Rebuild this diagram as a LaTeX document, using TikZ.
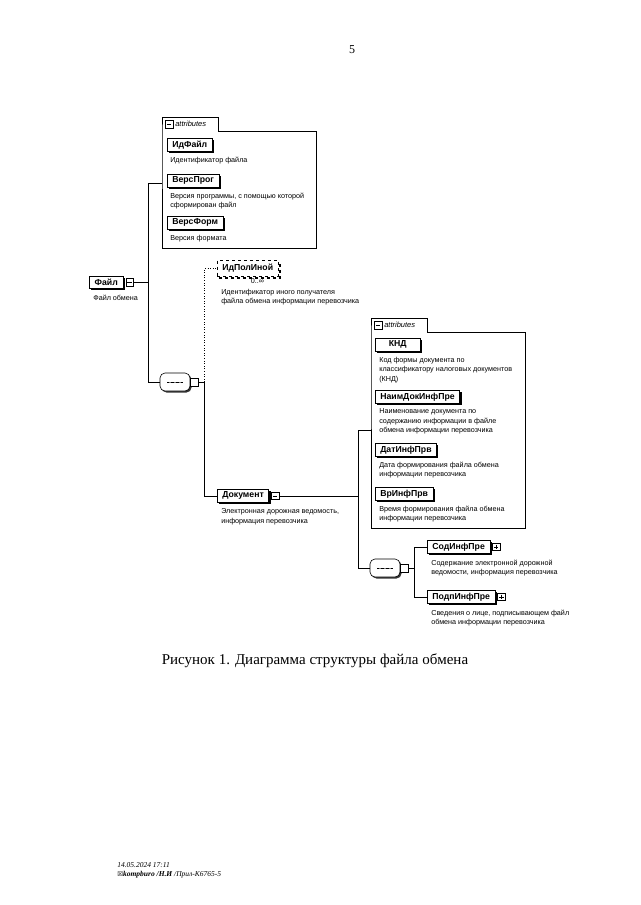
\documentclass[tikz,border=0pt]{standalone}
\usepackage{fontspec}
\setmainfont{Liberation Serif}
\setsansfont{Liberation Sans}
\newfontfamily\symfont{DejaVu Sans}
\usetikzlibrary{positioning,shadows,calc}

\begin{document}
\begin{tikzpicture}[x=1pt,y=-1pt,line width=0.6pt,
	elembase/.style={draw, fill=white, font=\sffamily\bfseries\fontsize{8.7}{9}\selectfont,
		inner xsep=5pt, inner ysep=0pt, minimum height=13pt, anchor=north west},
	elem/.style={elembase, minimum width=45pt,
		drop shadow={shadow xshift=1.8pt, shadow yshift=-1.8pt, fill=black, opacity=1}},
	optelem/.style={elembase, dashed, minimum height=16pt,
		preaction={draw, dashed, line width=1.8pt, transform canvas={shift={(1.5pt,-1.5pt)}}}},
	desc/.style={font=\sffamily\fontsize{7.2}{9.5}\selectfont, align=left, inner sep=0pt, anchor=north west},
	pmbox/.style={draw, fill=white, minimum size=7.5pt, inner sep=0pt, anchor=west, line width=0.5pt},
	minusbox/.style={pmbox, path picture={
		\draw ([xshift=1.5pt]path picture bounding box.west) -- ([xshift=-1.5pt]path picture bounding box.east);}},
	plusbox/.style={pmbox, path picture={
		\draw ([xshift=1.5pt]path picture bounding box.west) -- ([xshift=-1.5pt]path picture bounding box.east);
		\draw ([yshift=-1.5pt]path picture bounding box.north) -- ([yshift=1.5pt]path picture bounding box.south);}},
	seqbox/.style={draw, fill=white, rounded corners=5pt, minimum width=30pt, minimum height=18pt, inner sep=0pt,
		drop shadow={shadow xshift=1.5pt, shadow yshift=-1.5pt, fill=black!80, opacity=1},
		path picture={
		\draw ([xshift=-8pt]path picture bounding box.center) -- ([xshift=8pt]path picture bounding box.center);
		\foreach \d in {-5,0,5} \fill ([xshift=\d pt]path picture bounding box.center) circle (0.9pt);}},
	attrarea/.style={inner sep=0pt, anchor=north west},
	attrtab/.style={inner xsep=4pt, inner ysep=0pt, anchor=south west, minimum height=13pt, text width=48pt,
		font=\sffamily\itshape\fontsize{7.5}{8}\selectfont}]

\path[use as bounding box, fill=white] (0,0) rectangle (640,905);

% page number
\node[font=\fontsize{12}{14}\selectfont] (pagenum) at (352,50) {5};

% root element
\node[elem, minimum width=34pt, minimum height=12pt] (file) at (89,276) {Файл};
\node[minusbox, right=2pt of file] (fileX) {};
\node[desc, below right=6pt and 4pt of file.south west] (fileD) {Файл обмена};

% attributes of the root
\node[attrarea, minimum width=154pt, minimum height=117pt] (attrA) at (162,131) {};
\node[attrtab] (tabA) at (attrA.north west) {\hspace*{9pt}attributes};
\draw (tabA.south west) |- (tabA.north east) |- (attrA.north east) |- (attrA.south west) -- cycle;
\node[minusbox, right=3pt of tabA.west] (tabAX) {};

\node[elem] (idfile) at (167,138) {ИдФайл};
\node[desc, below right=5pt and 3pt of idfile.south west] (idfileD) {Идентификатор файла};
\node[elem] (versprog) at (167,174) {ВерсПрог};
\node[desc, below right=5pt and 3pt of versprog.south west] (versprogD)
	{Версия программы, с помощью которой\\сформирован файл};
\node[elem] (versform) at (167,216) {ВерсФорм};
\node[desc, below right=5pt and 3pt of versform.south west] (versformD) {Версия формата};

% first sequence
\node[seqbox] (seqA) at (175,382) {};
\node[pmbox, right=0pt of seqA] (seqAX) {};

\node[optelem] (idpol) at (217,260) {ИдПолИной};
\node[desc, below left=2pt and 14pt of idpol.south east, anchor=north east] (idpolN) {0..∞};
\node[desc, below right=12pt and 4pt of idpol.south west] (idpolD)
	{Идентификатор иного получателя\\файла обмена информации перевозчика};

\node[elem] (doc) at (217,489) {Документ};
\node[minusbox, right=2pt of doc] (docX) {};
\node[desc, below right=6pt and 4pt of doc.south west] (docD)
	{Электронная дорожная ведомость,\\информация перевозчика};

% attributes of the document
\node[attrarea, minimum width=154pt, minimum height=196pt] (attrB) at (371,332) {};
\node[attrtab] (tabB) at (attrB.north west) {\hspace*{9pt}attributes};
\draw (tabB.south west) |- (tabB.north east) |- (attrB.north east) |- (attrB.south west) -- cycle;
\node[minusbox, right=3pt of tabB.west] (tabBX) {};

\node[elem] (knd) at (375,338) {КНД};
\node[desc, below right=5pt and 4pt of knd.south west] (kndD)
	{Код формы документа по\\классификатору налоговых документов\\(КНД)};
\node[elem] (naim) at (375,390) {НаимДокИнфПре};
\node[desc, below right=5pt and 4pt of naim.south west] (naimD)
	{Наименование документа по\\содержанию информации в файле\\обмена информации перевозчика};
\node[elem] (dat) at (375,443) {ДатИнфПрв};
\node[desc, below right=5pt and 4pt of dat.south west] (datD)
	{Дата формирования файла обмена\\информации перевозчика};
\node[elem] (vr) at (375,487) {ВрИнфПрв};
\node[desc, below right=5pt and 4pt of vr.south west] (vrD)
	{Время формирования файла обмена\\информации перевозчика};

% second sequence
\node[seqbox] (seqB) at (385,568) {};
\node[pmbox, right=0pt of seqB] (seqBX) {};

\node[elem] (sod) at (427,540) {СодИнфПре};
\node[plusbox, right=2pt of sod] (sodX) {};
\node[desc, below right=6pt and 4pt of sod.south west] (sodD)
	{Содержание электронной дорожной\\ведомости, информация перевозчика};
\node[elem] (podp) at (427,590) {ПодпИнфПре};
\node[plusbox, right=2pt of podp] (podpX) {};
\node[desc, below right=6pt and 4pt of podp.south west] (podpD)
	{Сведения о лице, подписывающем файл\\обмена информации перевозчика};

% connectors
\draw (fileX.east) -- ++(15,0) coordinate (jA);
\draw (jA) |- ([yshift=7pt]attrA.west);
\draw (jA) |- (seqA.west);
\draw (seqAX.east) -- ++(6,0) coordinate (jB);
\draw[dotted] (jB) |- (idpol.west);
\draw (jB) |- (doc.west);
\draw (docX.east) -- ++(79,0) coordinate (jC);
\draw (jC) |- (attrB.west);
\draw (jC) |- (seqB.west);
\draw (seqBX.east) -- ++(6,0) coordinate (jD);
\draw (jD) |- (sod.west);
\draw (jD) |- (podp.west);

% caption and stamp
\node[font=\fontsize{15}{18}\selectfont] (caption) at (315,661) {Рисунок 1. Диаграмма структуры файла обмена};
\node[anchor=west, inner sep=0pt, font=\itshape\fontsize{7.5}{9}\selectfont] (stamp) at (117,865) {14.05.2024 17:11};
\node[anchor=north west, inner sep=0pt, font=\itshape\fontsize{7.5}{9}\selectfont] (source) at ([yshift=-3pt]stamp.south west)
	{{\symfont\fontsize{6.5}{8}\selectfont ☒}\textbf{kompburo /Н.И} /Прил-К6765-5};
\end{tikzpicture}
\end{document}
